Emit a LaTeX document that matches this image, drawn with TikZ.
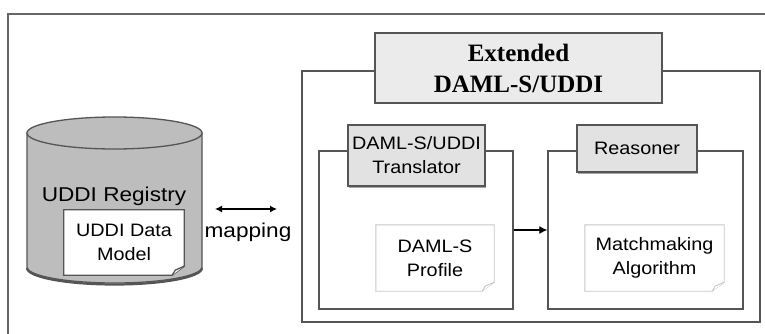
\documentclass[tikz,border=0pt]{standalone}
\usepackage{fontspec}
\newfontfamily\labelfont[FakeStretch=1.1]{Liberation Sans}
\newfontfamily\widelabelfont[FakeStretch=1.13]{Liberation Sans}
\newfontfamily\titlefont{Liberation Serif}
\usetikzlibrary{arrows.meta,shadows}
\definecolor{edge}{HTML}{555555}
\definecolor{tabfill}{HTML}{E2E2E2}
\definecolor{titlefill}{HTML}{EBEBEB}
\definecolor{dbfill}{HTML}{BDBDBD}
\definecolor{paleline}{HTML}{C8C8C8}
\tikzset{
  frame/.style={draw=edge, line width=1.4pt, fill=white, inner sep=0pt},
  tabbox/.style={draw=edge, line width=1.3pt, fill=tabfill, inner sep=0pt, align=center,
    font=\labelfont\fontsize{18}{24}\selectfont,
    drop shadow={shadow xshift=1pt, shadow yshift=-1.5pt, fill=gray!70, opacity=1}},
  titlebox/.style={tabbox, fill=titlefill, font=\titlefont\bfseries\fontsize{25}{31}\selectfont},
  doc/.style={inner sep=0pt, align=center, font=\labelfont\fontsize{18}{24}\selectfont},
  plain/.style={inner sep=0pt, font=\widelabelfont\fontsize{20}{24}\selectfont},
  link/.style={draw=black, line width=1.2pt},
}
% page with a folded lower-right corner around a named node
\newcommand\pageoutline[3]{%
  \path[draw=#2, fill=white, line width=#3]
    (#1.north west) -- (#1.north east) -- ([yshift=9pt]#1.south east)
    -- ([xshift=-12pt]#1.south east) -- (#1.south west) -- cycle;
  \path[draw=#2, fill=white, line width=#3]
    ([yshift=9pt]#1.south east) -- ([xshift=-9pt,yshift=5pt]#1.south east)
    -- ([xshift=-12pt]#1.south east);
}
\begin{document}
\begin{tikzpicture}[x=1pt, y=-1pt]
\useasboundingbox (0,0) rectangle (765,334);
\fill[white] (0,0) rectangle (765,334);

% surrounding frame, open to the right and bottom
\coordinate (fbl) at (8,334);
\coordinate (ftl) at (8,14);
\coordinate (ftr) at (765,14);
\draw[draw=gray!80!black, line width=2pt] (fbl) -- (ftl) -- (ftr);

% registry database
\coordinate (dbc) at (114.5,133);
\path[fill=dbfill, draw=edge, line width=1.3pt]
  (27,133) -- (27,267) arc[start angle=180, end angle=360, x radius=87.5, y radius=-16]
  -- (202,133) -- cycle;
\draw[edge, line width=2.2pt] (27,268) arc[start angle=180, end angle=360, x radius=87.5, y radius=-16.5];
\draw[fill=dbfill, draw=edge, line width=1.3pt] (dbc) ellipse[x radius=87.5, y radius=16];
\node[plain] (reg) at (114,196) {UDDI Registry};
\node[doc, minimum width=120, minimum height=65] (udm) at (124,242.5) {};
\pageoutline{udm}{edge}{1.3pt}
\node[doc] at (udm) {UDDI Data\\Model};

% mapping link
\coordinate (mapL) at (215,209);
\coordinate (mapR) at (277,209);
\draw[link, {Latex[length=7pt,width=7pt]}-{Latex[length=7pt,width=7pt]}] (mapL) -- (mapR);
\node[plain] (map) at (248,232) {mapping};

% extended registry
\node[frame, minimum width=458, minimum height=251] (ext) at (531,196.5) {};
\node[titlebox, minimum width=287, minimum height=70] (title) at (518.5,68) {Extended\\DAML-S/UDDI};

\node[frame, line width=1.3pt, minimum width=194, minimum height=158] (lsub) at (416,230) {};
\node[frame, line width=1.3pt, minimum width=195, minimum height=158] (rsub) at (645.5,230) {};

\node[tabbox, minimum width=137, minimum height=61] (trans) at (416.5,155.5) {DAML-S/UDDI\\Translator};
\node[tabbox, minimum width=120, minimum height=47] (reas) at (637,148.5) {Reasoner};

\node[doc, minimum width=118, minimum height=66] (prof) at (435,258) {};
\pageoutline{prof}{paleline}{0.9pt}
\node[doc] at (prof) {DAML-S\\Profile};

\node[doc, minimum width=139, minimum height=66] (match) at (654.5,258) {};
\pageoutline{match}{paleline}{0.9pt}
\node[doc] at (match) {Matchmaking\\Algorithm};

\draw[link, -{Latex[length=8pt,width=8pt]}] (lsub.east) -- (rsub.west);
\end{tikzpicture}
\end{document}
